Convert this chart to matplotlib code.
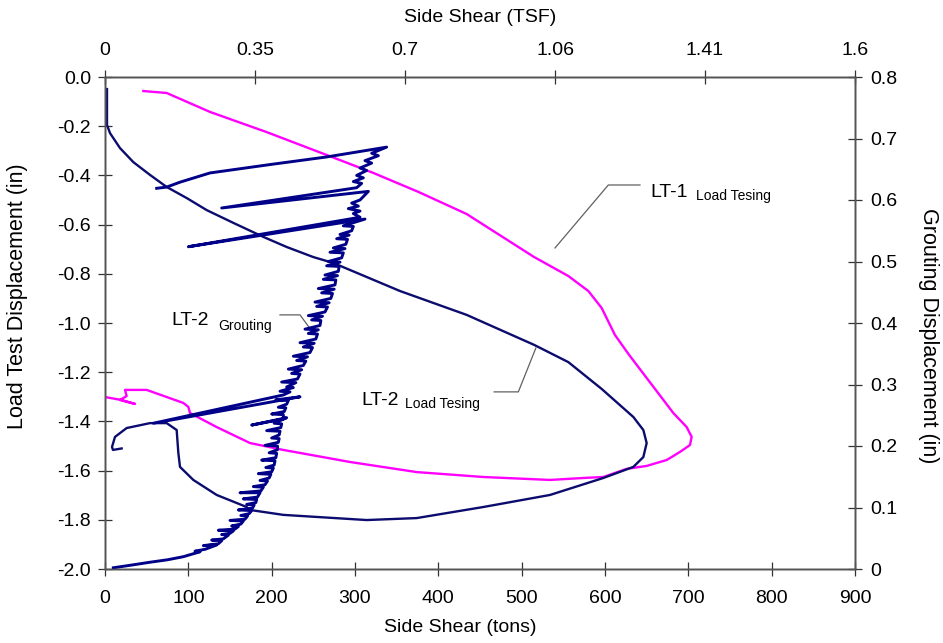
import matplotlib
matplotlib.use("Agg")
import matplotlib.pyplot as plt

plt.rcParams["font.family"] = ["Liberation Sans", "DejaVu Sans"]
plt.rcParams["axes.unicode_minus"] = False

# ── LT-1 load test: side shear (tons) vs displacement (in) ──
lt1_ton = [46, 74, 126, 194, 266, 322, 376, 434, 515, 556, 580, 596, 612, 629,
           660, 682, 698, 704, 702, 690, 674, 650, 626, 598, 574, 534, 454,
           374, 294, 214, 174, 134, 102, 100, 94, 50, 24, 26, 18, 36, 20, 0]
lt1_disp = [-0.057, -0.065, -0.142, -0.224, -0.317, -0.390, -0.467, -0.557,
            -0.732, -0.809, -0.870, -0.939, -1.049, -1.130, -1.268, -1.366,
            -1.423, -1.463, -1.496, -1.524, -1.557, -1.581, -1.593, -1.626,
            -1.630, -1.638, -1.626, -1.606, -1.565, -1.516, -1.488, -1.423,
            -1.366, -1.341, -1.325, -1.272, -1.272, -1.297, -1.313, -1.329,
            -1.313, -1.301]

# ── LT-2 load test ──
lt2_ton = [2.4, 2.4, 6, 18, 34, 54, 74, 98, 122, 154, 190, 218, 250, 274, 354,
           434, 515, 556, 596, 634, 646, 650, 646, 634, 598, 534, 454, 374,
           314, 214, 174, 170, 134, 106, 90, 88, 86, 74, 54, 26, 12, 8.4, 9.6,
           20]
lt2_disp = [-0.049, -0.195, -0.228, -0.289, -0.346, -0.398, -0.447, -0.492,
            -0.541, -0.593, -0.650, -0.691, -0.732, -0.756, -0.870, -0.967,
            -1.089, -1.159, -1.268, -1.382, -1.435, -1.488, -1.545, -1.585,
            -1.630, -1.699, -1.748, -1.793, -1.801, -1.780, -1.760, -1.748,
            -1.699, -1.638, -1.585, -1.528, -1.435, -1.407, -1.407, -1.427,
            -1.463, -1.504, -1.516, -1.510]

# ── LT-2 grouting: (side shear tons, grouting displacement in) ──
# readings jump back a little between pressure steps, and each
# unload/reload cycle runs out to the left of the main trace
grout_pts = [
    (10, 0.002), (30, 0.006), (54, 0.011), (75, 0.015), (94, 0.020),
    (104, 0.024), (114, 0.028), (108, 0.029), (120, 0.032),
    (134, 0.039), (118, 0.038), (136, 0.041),
    (140, 0.046), (128, 0.047), (142, 0.049), (148, 0.055), (140, 0.056),
    (150, 0.058), (154, 0.062), (136, 0.063), (156, 0.065), (160, 0.069),
    (152, 0.070), (163, 0.073), (166, 0.078), (150, 0.079), (168, 0.081),
    (171, 0.086), (163, 0.087), (173, 0.090), (176, 0.095), (160, 0.096),
    (177, 0.099), (179, 0.104), (170, 0.105), (181, 0.108), (182, 0.113),
    (166, 0.114), (183, 0.117),
    (186, 0.124), (162, 0.124), (187, 0.127),
    (190, 0.133), (178, 0.134), (192, 0.137), (195, 0.143), (186, 0.144),
    (197, 0.148), (199, 0.154), (184, 0.155), (200, 0.158), (202, 0.164),
    (193, 0.165), (203, 0.169), (204, 0.176), (188, 0.177), (205, 0.181),
    (206, 0.188), (197, 0.189), (207, 0.194), (207, 0.200), (192, 0.201),
    (208, 0.206), (209, 0.212), (200, 0.213), (209, 0.218), (210, 0.224),
    (194, 0.225), (211, 0.230), (212, 0.236), (203, 0.237),
    (218, 0.246), (176, 0.234), (214, 0.244),
    (214, 0.251), (200, 0.252), (215, 0.256), (217, 0.262), (208, 0.263),
    (218, 0.268), (220, 0.274), (205, 0.275), (222, 0.278),
    (234, 0.280), (58, 0.237), (214, 0.283),
    (222, 0.288), (210, 0.289), (226, 0.295), (218, 0.296), (229, 0.303),
    (212, 0.304), (231, 0.309), (234, 0.317), (224, 0.318), (236, 0.324),
    (220, 0.325), (238, 0.331), (241, 0.338), (230, 0.339), (243, 0.345),
    (226, 0.346), (246, 0.352), (249, 0.360), (238, 0.361), (251, 0.367),
    (234, 0.368), (253, 0.374), (255, 0.382), (244, 0.383), (256, 0.389),
    (240, 0.390), (258, 0.396), (259, 0.404), (248, 0.405), (261, 0.411),
    (244, 0.412), (264, 0.418), (267, 0.426), (254, 0.427), (269, 0.433),
    (252, 0.434), (271, 0.440), (273, 0.448), (260, 0.449), (275, 0.455),
    (256, 0.456), (276, 0.462), (277, 0.470), (262, 0.471), (279, 0.477),
    (264, 0.478), (280, 0.484), (281, 0.492), (266, 0.493), (282, 0.499),
    (268, 0.500), (284, 0.506), (286, 0.514), (270, 0.515), (288, 0.521),
    (274, 0.522), (289, 0.528), (291, 0.536), (278, 0.537), (293, 0.543),
    (282, 0.544), (296, 0.550), (298, 0.557), (286, 0.558),
    (312, 0.569), (100, 0.524), (306, 0.572), (298, 0.578), (306, 0.582),
    (292, 0.586), (304, 0.590), (296, 0.595), (306, 0.600),
    (316, 0.614), (140, 0.587), (302, 0.620),
    (308, 0.627), (298, 0.630), (310, 0.636), (302, 0.640), (314, 0.648),
    (306, 0.652), (320, 0.660), (312, 0.664), (328, 0.672), (320, 0.676),
    (338, 0.686),
    (266, 0.670), (200, 0.658), (126, 0.644), (90, 0.629), (74, 0.621),
    (62, 0.619),
]
grout_ton = [p[0] for p in grout_pts]
grout_disp = [p[1] for p in grout_pts]

x_ticks = list(range(0, 1000, 100))
top_tick_pos = [0, 180, 360, 540, 720, 900]
top_tick_labels = ["0", "0.35", "0.7", "1.06", "1.41", "1.6"]
left_ticks = [0.0, -0.2, -0.4, -0.6, -0.8, -1.0, -1.2, -1.4, -1.6, -1.8, -2.0]
right_ticks = [0, 0.1, 0.2, 0.3, 0.4, 0.5, 0.6, 0.7, 0.8]

MAGENTA = "#ff00ff"
NAVY = "#0c0c6e"
GROUT = "#000088"
LEADER = "#606060"
W, H = 943, 643

fig = plt.figure(figsize=(W / 100, H / 100), dpi=100)
ax = fig.add_axes([105 / W, 1 - 569 / H, 750 / W, 492 / H])

ax.plot(lt1_ton, lt1_disp, color=MAGENTA, lw=1.7)
ax.plot(lt2_ton, lt2_disp, color=NAVY, lw=1.7)
ax.set_xlim(0, 900)
ax.set_ylim(-2.0, 0.0)
ax.set_xticks(x_ticks)
ax.set_yticks(left_ticks)
ax.set_yticklabels([f"{v:.1f}" for v in left_ticks])

axr = ax.twinx()
axr.plot(grout_ton, grout_disp, color=GROUT, lw=2.1)
axr.set_ylim(0, 0.8)
axr.set_yticks(right_ticks)
axr.set_yticklabels(["0"] + [f"{v:.1f}" for v in right_ticks[1:]])

axt = ax.twiny()
axt.set_xlim(0, 900)
axt.set_xticks(top_tick_pos)
axt.set_xticklabels(top_tick_labels)

for a in (ax, axr, axt):
    a.tick_params(direction="inout", length=10, width=0.9, labelsize=14,
                  color="#333333")
    for s in a.spines.values():
        s.set_color("#555555")
        s.set_linewidth(1.0)
ax.tick_params(axis="x", pad=10)
ax.tick_params(axis="y", pad=5)
axr.tick_params(axis="y", pad=6)
axt.tick_params(axis="x", pad=8)

# axis titles
fig.text(460 / W, 1 - 628 / H, "Side Shear (tons)", fontsize=14,
         ha="center", va="center")
fig.text(480 / W, 1 - 18 / H, "Side Shear (TSF)", fontsize=14,
         ha="center", va="center")
fig.text(18 / W, 1 - 296 / H, "Load Test Displacement (in)", fontsize=15.5,
         rotation=90, ha="center", va="center")
fig.text(928 / W, 1 - 336 / H, "Grouting Displacement (in)", fontsize=15.5,
         rotation=-90, ha="center", va="center")

# labels with leader lines
ax.plot([540, 604, 642], [-0.695, -0.439, -0.439], color=LEADER, lw=0.9)
ax.text(654, -0.488, "LT-1", fontsize=14, va="baseline")
ax.text(709, -0.500, "Load Tesing", fontsize=10, va="baseline")

ax.plot([467, 496, 517], [-1.280, -1.280, -1.102], color=LEADER, lw=0.9)
ax.text(308, -1.333, "LT-2", fontsize=14, va="baseline")
ax.text(360, -1.345, "Load Tesing", fontsize=10, va="baseline")

ax.plot([210, 234, 250], [-0.967, -0.967, -1.041], color=LEADER, lw=0.9)
ax.text(80, -1.008, "LT-2", fontsize=14, va="baseline")
ax.text(136, -1.028, "Grouting", fontsize=10, va="baseline")

fig.savefig("out.png", dpi=100)
